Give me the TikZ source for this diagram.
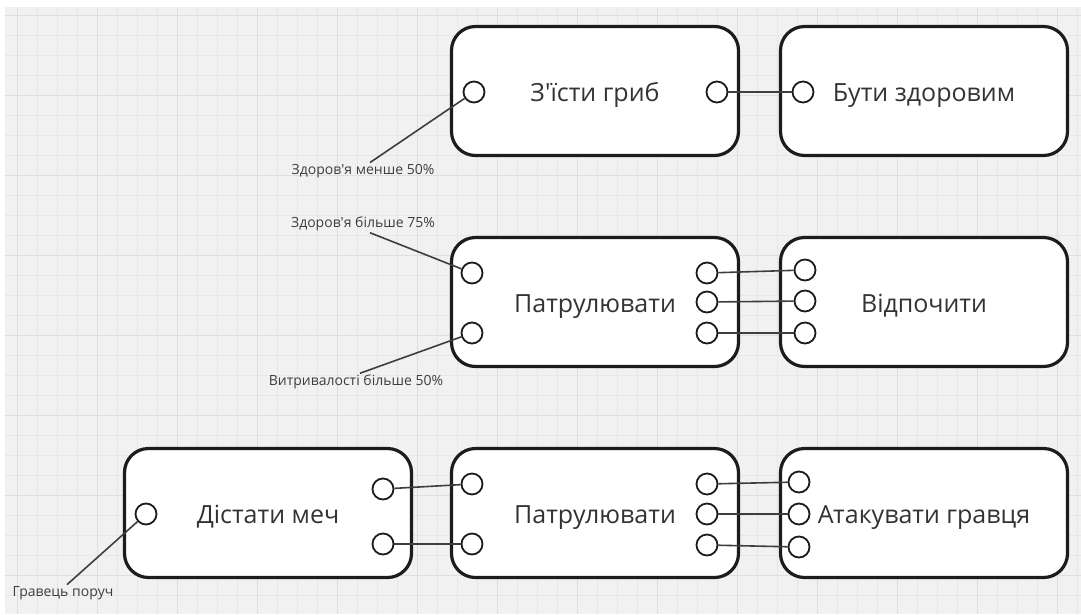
\documentclass[tikz,border=0pt]{standalone}
\usepackage{fontspec}
\newfontfamily\uifont{Open Sans}

\definecolor{canvas}{HTML}{F1F1F1}
\definecolor{gridminor}{HTML}{E7E7E7}
\definecolor{gridmajor}{HTML}{DEDEDE}
\definecolor{ink}{HTML}{1C1C1C}

\tikzset{
  action/.style={draw=ink, line width=3.2pt, fill=white, rounded corners=24pt,
    minimum width=287pt, minimum height=129pt, inner sep=0pt,
    text height=22pt, text depth=2pt,
    font=\uifont\fontsize{25}{30}\selectfont, text=ink!90},
  port/.style={circle, draw=ink, line width=1.8pt, fill=white,
    minimum size=21pt, inner sep=0pt},
  wire/.style={draw=ink!85, line width=1.6pt},
  cond/.style={font=\uifont\fontsize{14}{17}\selectfont, text=ink!85, inner sep=1.5pt},
}

\begin{document}
\begin{tikzpicture}[x=1pt, y=-1pt]
  % Canvas with grid
  \useasboundingbox (0,0) rectangle (1081,614);
  \fill[white] (0,0) rectangle (1081,614);
  \fill[canvas] (5,7) rectangle (1081,614);
  \foreach \gx in {17,37,...,1077} \draw[gridminor, line width=0.8pt] (\gx,7) -- (\gx,614);
  \foreach \gy in {15,35,...,614} \draw[gridminor, line width=0.8pt] (5,\gy) -- (1081,\gy);
  \foreach \gx in {17,97,...,1077} \draw[gridmajor, line width=1pt] (\gx,7) -- (\gx,614);
  \foreach \gy in {15,95,...,614} \draw[gridmajor, line width=1pt] (5,\gy) -- (1081,\gy);

  % Actions
  \node[action] (eat) at (595,91) {З'їсти гриб};
  \node[action] (healthy) at (924,91) {Бути здоровим};
  \node[action] (patrol) at (595,302) {Патрулювати};
  \node[action] (rest) at (924,302) {Відпочити};
  \node[action] (sword) at (268,513) {Дістати меч};
  \node[action] (guard) at (595,513) {Патрулювати};
  \node[action] (attack) at (924,513) {Атакувати гравця};

  % Ports, first row
  \node[port] (eat-i) at (474,92) {};
  \node[port] (eat-o) at (717,92) {};
  \node[port] (healthy-i) at (803,92) {};

  % Ports, second row
  \node[port] (patrol-i1) at (472,273) {};
  \node[port] (patrol-i2) at (472,333) {};
  \foreach \k/\py in {1/273,2/302,3/333}
    \node[port] (patrol-o\k) at (707,\py) {};
  \foreach \k/\py in {1/270,2/301,3/333}
    \node[port] (rest-i\k) at (805,\py) {};

  % Ports, third row
  \node[port] (sword-i) at (146,514) {};
  \node[port] (sword-o1) at (383,489) {};
  \node[port] (sword-o2) at (383,544) {};
  \node[port] (guard-i1) at (472,484) {};
  \node[port] (guard-i2) at (472,544) {};
  \foreach \k/\py in {1/484,2/514,3/545}
    \node[port] (guard-o\k) at (707,\py) {};
  \foreach \k/\py in {1/482,2/514,3/547}
    \node[port] (attack-i\k) at (799,\py) {};

  % Links between actions
  \draw[wire] (eat-o) -- (healthy-i);
  \foreach \k in {1,2,3} {
    \draw[wire] (patrol-o\k) -- (rest-i\k);
    \draw[wire] (guard-o\k) -- (attack-i\k);
  }
  \draw[wire] (sword-o1) -- (guard-i1);
  \draw[wire] (sword-o2) -- (guard-i2);

  % Conditions
  \node[cond] (low) at (363,171) {Здоров'я менше 50\%};
  \node[cond] (high) at (363,224) {Здоров'я більше 75\%};
  \node[cond] (stamina) at (356,382) {Витривалості більше 50\%};
  \node[cond] (near) at (63,593) {Гравець поруч};
  \draw[wire] ([xshift=7pt]low.north) -- (eat-i);
  \draw[wire] ([xshift=7pt]high.south) -- (patrol-i1);
  \draw[wire] ([xshift=4pt]stamina.north) -- (patrol-i2);
  \draw[wire] ([xshift=4pt]near.north) -- (sword-i);
\end{tikzpicture}
\end{document}
